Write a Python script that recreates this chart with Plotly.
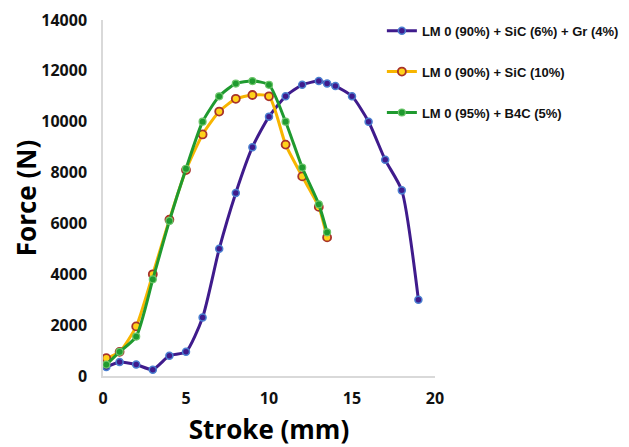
import plotly.graph_objects as go

# Series: LM 0 (90%) + SiC (6%) + Gr (4%)
stroke_gr = [0.2, 1, 2, 3, 4, 5, 6, 7, 8, 9, 10, 11, 12, 13, 13.5, 14, 15, 16, 17, 18, 19]
force_gr = [350, 550, 450, 250, 800, 950, 2300, 5000, 7200, 9000, 10200, 11000, 11450,
            11600, 11500, 11400, 11000, 10000, 8500, 7300, 3000]

# Series: LM 0 (90%) + SiC (10%)
stroke_sic = [0.2, 1, 2, 3, 4, 5, 6, 7, 8, 9, 10, 11, 12, 13, 13.5]
force_sic = [700, 950, 1950, 4000, 6150, 8100, 9500, 10400, 10900, 11050, 11000, 9100,
             7850, 6650, 5450]

# Series: LM 0 (95%) + B4C (5%)
stroke_b4c = [0.2, 1, 2, 3, 4, 5, 6, 7, 8, 9, 10, 11, 12, 13, 13.5]
force_b4c = [450, 950, 1550, 3800, 6100, 8150, 10000, 11000, 11500, 11600, 11450, 10000,
             8200, 6750, 5650]

names = ["LM 0 (90%) + SiC (6%) + Gr (4%)", "LM 0 (90%) + SiC (10%)", "LM 0 (95%) + B4C (5%)"]

x_ticks = [0, 5, 10, 15, 20]
x_labels = ["0", "5", "10", "15", "20"]
y_ticks = [0, 2000, 4000, 6000, 8000, 10000, 12000, 14000]
y_labels = ["0", "2000", "4000", "6000", "8000", "10000", "12000", "14000"]

fig = go.Figure()
fig.add_trace(go.Scatter(
    x=stroke_gr, y=force_gr, name=names[0], mode="lines+markers", legendgroup="a",
    line=dict(color="#3F1B8C", width=3, shape="spline", smoothing=0.6),
    marker=dict(color="#3F1B8C", size=7, line=dict(color="#4A7FD0", width=1.5))))
fig.add_trace(go.Scatter(
    x=stroke_sic, y=force_sic, name=names[1], mode="lines+markers", legendgroup="b",
    line=dict(color="#F7B500", width=3, shape="spline", smoothing=0.6),
    marker=dict(color="#FFD21A", size=8, line=dict(color="#A8322A", width=1.8))))
fig.add_trace(go.Scatter(
    x=stroke_b4c, y=force_b4c, name=names[2], mode="lines+markers", legendgroup="c",
    line=dict(color="#1F9A2F", width=3, shape="spline", smoothing=0.6),
    marker=dict(color="#1F9A2F", size=7, line=dict(color="#6CC56A", width=1.2))))

fig.update_layout(
    width=621, height=439,
    margin=dict(l=95, r=194, t=12, b=71, autoexpand=False),
    paper_bgcolor="white", plot_bgcolor="white",
    font=dict(family="Open Sans", color="#111111"),
    showlegend=True,
    legend=dict(x=0.84, y=1.012, xanchor="left", yanchor="top",
                font=dict(size=13, color="#111111", family="Liberation Sans Narrow, Liberation Sans", weight="bold"),
                tracegroupgap=21, bgcolor="rgba(0,0,0,0)", itemwidth=30),
    xaxis=dict(range=[0, 20], tickvals=x_ticks, ticktext=x_labels, ticks="", showgrid=False,
               zeroline=False, automargin=False,
               showline=True, linecolor="#D9D9D9", linewidth=1.5,
               ticklabelstandoff=7,
               tickfont=dict(size=16, family="Open Sans", color="#111111", weight="bold"),
               title=dict(text="<b>Stroke (mm)</b>", font=dict(size=26, family="Open Sans", color="#000"),
                          standoff=14)),
    yaxis=dict(range=[0, 14000], tickvals=y_ticks, ticktext=y_labels, ticks="", showgrid=False,
               zeroline=False, automargin=False,
               showline=True, linecolor="#D9D9D9", linewidth=1.5,
               tickfont=dict(size=16, family="Open Sans", color="#111111", weight="bold"),
               ticklabelstandoff=11,
               title=dict(text="<b>Force (N)</b>", font=dict(size=26, family="Open Sans", color="#000"),
                          standoff=18)),
)

fig.write_html("out.html")
